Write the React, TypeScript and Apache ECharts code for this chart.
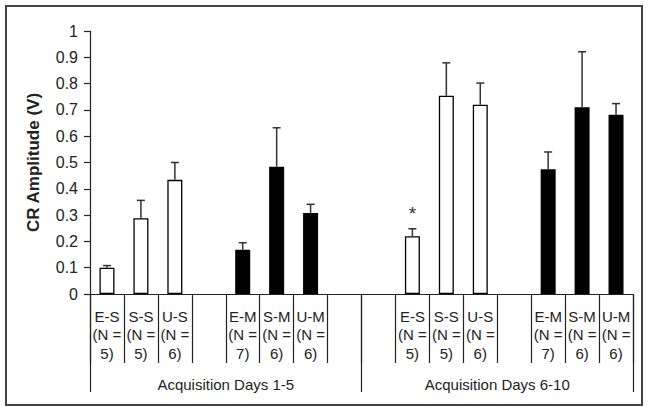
import React, { useEffect, useRef } from "react";
import * as echarts from "echarts";

const groupLabels = ["Acquisition Days 1-5", "Acquisition Days 6-10"];
const conditions = ["E-S", "S-S", "U-S", "", "E-M", "S-M", "U-M", "", "", "E-S", "S-S", "U-S", "", "E-M", "S-M", "U-M"];
const nCounts = [5, 5, 6, null, 7, 6, 6, null, null, 5, 5, 6, null, 7, 6, 6];
const means = [0.1, 0.288, 0.434, null, 0.168, 0.484, 0.308, null, null, 0.22, 0.754, 0.72, null, 0.474, 0.71, 0.682];
const sems = [0.008, 0.068, 0.066, null, 0.027, 0.148, 0.033, null, null, 0.028, 0.125, 0.082, null, 0.066, 0.211, 0.042];
const significance = ["", "", "", "", "", "", "", "", "", "*", "", "", "", "", "", ""];
const yTicks = { min: 0, max: 1, interval: 0.1 };

const FONT = "Liberation Sans, Arial, sans-serif";
const TEXT = "#222";

export default function App() {
  const ref = useRef<HTMLDivElement>(null);
  useEffect(() => {
    if (!ref.current) return;
    const chart = echarts.init(ref.current, null, { renderer: "svg" });
    const keys = conditions.map((c, i) => `${c}#${i}`);
    const barData = means.map((m, i) => {
      if (m === null) return "-";
      const isM = conditions[i].endsWith("M");
      return {
        value: m,
        itemStyle: {
          color: isM ? "#000" : "#fff",
          borderColor: "#000",
          borderWidth: 1.3,
        },
        label: significance[i]
          ? {
              show: true,
              position: "top",
              distance: 13,
              formatter: significance[i],
              fontSize: 19,
              color: "#333",
              fontFamily: FONT,
            }
          : { show: false },
      };
    });
    const errData: any[] = [];
    means.forEach((m, i) => {
      if (m !== null && sems[i] !== null) errData.push([i, m, sems[i]]);
    });

    chart.setOption({
      animation: false,
      textStyle: { fontFamily: FONT },
      graphic: [
        {
          type: "rect",
          shape: { x: 6, y: 6, width: 636, height: 399 },
          style: { fill: "none", stroke: "#444", lineWidth: 2 },
          silent: true,
        },
      ],
      grid: { left: 90, right: 16, top: 31, bottom: 118 },
      xAxis: [
        {
          type: "category",
          data: keys,
          position: "bottom",
          offset: 0,
          axisLine: { show: true, lineStyle: { color: "#222", width: 1.2 } },
          axisTick: { show: true, length: 69, interval: 0, lineStyle: { color: "#222", width: 1.2 } },
          axisLabel: {
            interval: 0,
            margin: 13,
            fontSize: 15,
            lineHeight: 18.5,
            color: TEXT,
            fontFamily: FONT,
            formatter: (_v: string, idx: number) =>
              conditions[idx] ? `${conditions[idx]}\n(N =\n${nCounts[idx]})` : "",
          },
        },
        {
          type: "category",
          data: groupLabels,
          position: "bottom",
          offset: 0,
          axisLine: { show: false },
          axisTick: { show: true, length: 98, interval: 0, lineStyle: { color: "#222", width: 1.2 } },
          axisLabel: { interval: 0, margin: 83, fontSize: 15, color: TEXT, fontFamily: FONT },
        },
      ],
      yAxis: {
        type: "value",
        min: yTicks.min,
        max: yTicks.max,
        interval: yTicks.interval,
        name: "CR Amplitude (V)",
        nameLocation: "middle",
        nameGap: 48,
        nameTextStyle: { fontSize: 17, fontWeight: "bold", color: TEXT, fontFamily: FONT },
        splitLine: { show: false },
        axisLine: { show: true, lineStyle: { color: "#222", width: 1.2 } },
        axisTick: { show: true, length: 6, lineStyle: { color: "#222", width: 1.2 } },
        axisLabel: { fontSize: 16, color: TEXT, margin: 12, fontFamily: FONT },
      },
      series: [
        {
          type: "bar",
          xAxisIndex: 0,
          data: barData,
          barWidth: 15,
        },
        {
          type: "custom",
          xAxisIndex: 0,
          data: errData,
          encode: { x: 0, y: 1 },
          z: 3,
          renderItem: (_params: any, api: any) => {
            const i = api.value(0);
            const m = api.value(1);
            const e = api.value(2);
            const base = api.coord([i, m]);
            const top = api.coord([i, m + e]);
            const style = { stroke: "#333", lineWidth: 1.5 };
            return {
              type: "group",
              children: [
                { type: "line", shape: { x1: base[0], y1: base[1], x2: top[0], y2: top[1] }, style },
                { type: "line", shape: { x1: top[0] - 4, y1: top[1], x2: top[0] + 4, y2: top[1] }, style },
              ],
            };
          },
        },
      ],
    });
    return () => chart.dispose();
  }, []);
  return (
    <div
      ref={ref}
      style={{ position: "fixed", left: 0, top: 0, width: 649, height: 412, background: "#fff" }}
    />
  );
}
